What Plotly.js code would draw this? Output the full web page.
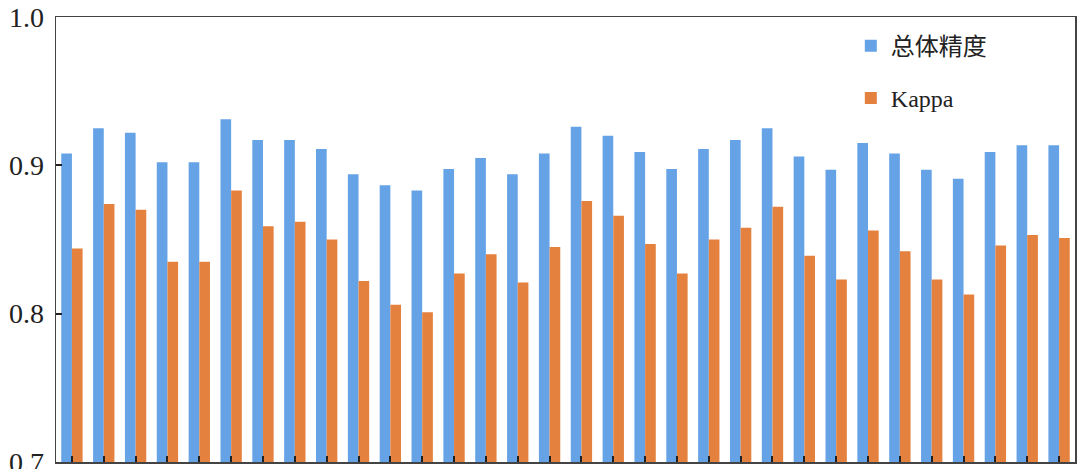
<!DOCTYPE html>
<html>
<head>
<meta charset="utf-8">
<script src="https://cdn.plot.ly/plotly-3.0.1.min.js"></script>
<style>html,body{margin:0;padding:0;background:#fff;}#chart{width:1080px;height:469px;}</style>
</head>
<body>
<div id="chart"></div>
<script>
const categories = Array.from({length: 32}, (_, i) => String(i + 1));
const overallAccuracy = [0.908, 0.925, 0.922, 0.902, 0.902, 0.931, 0.917, 0.917, 0.911, 0.894,
  0.8865, 0.883, 0.8975, 0.905, 0.894, 0.908, 0.926, 0.920, 0.909, 0.8975,
  0.911, 0.917, 0.925, 0.906, 0.897, 0.915, 0.908, 0.897, 0.891, 0.909, 0.9135, 0.9135];
const kappa = [0.844, 0.874, 0.870, 0.835, 0.835, 0.883, 0.859, 0.862, 0.850, 0.822,
  0.806, 0.801, 0.827, 0.840, 0.821, 0.845, 0.876, 0.866, 0.847, 0.827,
  0.850, 0.858, 0.872, 0.839, 0.823, 0.856, 0.842, 0.823, 0.813, 0.846, 0.853, 0.851];
const seriesNames = ['总体精度', 'Kappa'];
const yTickVals = [0.7, 0.8, 0.9, 1.0];
const yTickText = ['0.7', '0.8', '0.9', '1.0'];

const traces = [
  {type: 'bar', name: seriesNames[0], x: categories, y: overallAccuracy, legendgroup: 'a',
   marker: {color: '#66A3E6'}},
  {type: 'bar', name: seriesNames[1], x: categories, y: kappa, legendgroup: 'b',
   marker: {color: '#E5813E'}}
];

const layout = {
  width: 1080, height: 469,
  margin: {l: 56, r: 5, t: 17, b: 7},
  paper_bgcolor: '#fff', plot_bgcolor: '#fff',
  barmode: 'group', bargap: 0.33, bargroupgap: 0,
  font: {family: '"Liberation Serif", "Noto Sans CJK SC", serif', color: '#222'},
  showlegend: true,
  legend: {x: 0.78, y: 0.985, xanchor: 'left', yanchor: 'top', bgcolor: 'rgba(0,0,0,0)',
    font: {size: 24, family: '"Liberation Serif", "Noto Sans CJK SC", serif', color: '#222'},
    tracegroupgap: 18, itemwidth: 30},
  xaxis: {type: 'category', range: [-0.5, 31.5], showticklabels: false,
    ticks: 'inside', ticklen: 6, tickwidth: 2, tickcolor: '#222',
    showline: true, linecolor: '#444', linewidth: 1.5, mirror: true,
    showgrid: false, zeroline: false, fixedrange: true},
  yaxis: {range: [0.7, 1.0], tickvals: yTickVals, ticktext: yTickText,
    ticks: 'inside', ticklen: 6, tickwidth: 2, tickcolor: '#222',
    ticklabeloverflow: 'allow', ticklabelstandoff: 5,
    tickfont: {size: 28, family: '"Liberation Serif", serif', color: '#222'},
    showline: true, linecolor: '#444', linewidth: 1.5, mirror: true,
    showgrid: false, zeroline: false, fixedrange: true}
};

Plotly.newPlot('chart', traces, layout, {displayModeBar: false, staticPlot: true});
</script>
</body>
</html>
